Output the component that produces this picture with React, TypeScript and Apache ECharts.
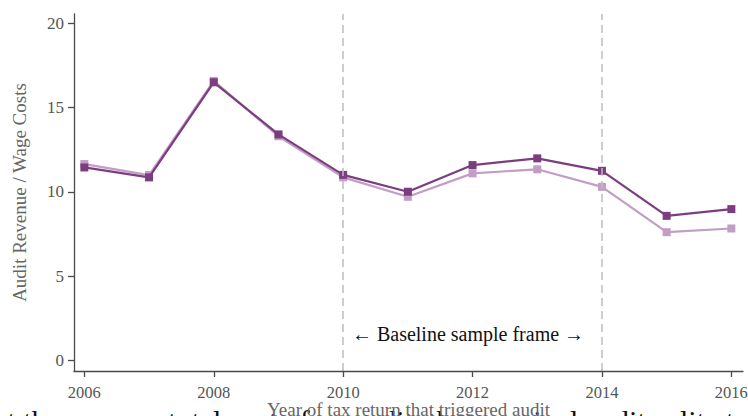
import React, { useEffect, useRef } from "react";
import * as echarts from "echarts";

const years = [2006, 2007, 2008, 2009, 2010, 2011, 2012, 2013, 2014, 2015, 2016];
const darkValues = [11.45, 10.86, 16.5, 13.41, 11.01, 10.01, 11.59, 11.99, 11.25, 8.58, 8.98];
const lightValues = [11.65, 11.0, 16.58, 13.3, 10.86, 9.71, 11.1, 11.34, 10.3, 7.61, 7.83];
const xTicks = [2006, 2008, 2010, 2012, 2014, 2016];
const yTicks = [0, 5, 10, 15, 20];
const frameYears = [2010, 2014];

const FONT = "Liberation Serif";

export default function App() {
  const ref = useRef<HTMLDivElement>(null);
  useEffect(() => {
    if (!ref.current) return;
    const chart = echarts.init(ref.current, null, { renderer: "svg" });
    const axisLineStyle = { color: "#4a4a4a", width: 1.3 };
    chart.setOption({
      animation: false,
      backgroundColor: "#fff",
      grid: {
        left: 74,
        right: 5,
        top: 14,
        bottom: 45,
        containLabel: false,
        outerBoundsMode: "none",
      },
      xAxis: {
        type: "value",
        z: 5,
        min: 2005.84,
        max: 2016.18,
        name: "Year of tax return that triggered audit",
        nameLocation: "middle",
        nameGap: 29,
        nameMoveOverlap: false,
        nameTextStyle: { fontFamily: FONT, fontSize: 19, color: "#666" },
        axisLine: { show: true, onZero: false, lineStyle: axisLineStyle },
        axisTick: { show: true, length: 6, lineStyle: axisLineStyle, customValues: xTicks },
        axisLabel: {
          customValues: xTicks,
          fontFamily: FONT,
          fontSize: 16.5,
          color: "#555",
          margin: 13,
          formatter: (v: number) => String(v),
        },
        splitLine: { show: false },
      },
      yAxis: {
        type: "value",
        min: -0.62,
        max: 20.55,
        name: "Audit Revenue / Wage Costs",
        nameLocation: "middle",
        nameGap: 45,
        nameMoveOverlap: false,
        nameTextStyle: { fontFamily: FONT, fontSize: 19, color: "#666" },
        axisLine: { show: true, onZero: false, lineStyle: axisLineStyle },
        axisTick: { show: true, length: 6, lineStyle: axisLineStyle, customValues: yTicks },
        axisLabel: {
          customValues: yTicks,
          fontFamily: FONT,
          fontSize: 17,
          color: "#555",
          margin: 10,
        },
        splitLine: { show: false },
      },
      series: [
        {
          type: "line",
          name: "light",
          data: years.map((y, i) => [y, lightValues[i]]),
          symbol: "rect",
          symbolSize: 8,
          itemStyle: { color: "#c29dc5" },
          lineStyle: { color: "#c29dc5", width: 2.2 },
          z: 2,
          markLine: {
            silent: true,
            symbol: ["none", "none"],
            label: { show: false },
            lineStyle: { color: "#bdbdbd", type: [8, 5], width: 1.5 },
            data: frameYears.map((y) => ({ xAxis: y })),
          },
        },
        {
          type: "line",
          name: "dark",
          data: years.map((y, i) => [y, darkValues[i]]),
          symbol: "rect",
          symbolSize: 8,
          itemStyle: { color: "#7c3d80" },
          lineStyle: { color: "#7c3d80", width: 2.2 },
          z: 3,
        },
      ],
      graphic: [
        {
          type: "text",
          x: 468,
          y: 334,
          style: {
            text: "\u2190 Baseline sample frame \u2192",
            fontFamily: FONT,
            fontSize: 20,
            fill: "#111",
            align: "center",
            verticalAlign: "middle",
          },
        },
        {
          type: "text",
          x: -6,
          y: 405,
          z: -10,
          style: {
            text: "at the average total cost of an audit, the marginal audit split at",
            fontFamily: FONT,
            fontSize: 30,
            fill: "#111",
            align: "left",
            verticalAlign: "top",
          },
        },
      ],
    });
    return () => chart.dispose();
  }, []);
  return (
    <div
      ref={ref}
      style={{ position: "fixed", left: 0, top: 0, width: 748, height: 416, background: "#fff" }}
    />
  );
}
